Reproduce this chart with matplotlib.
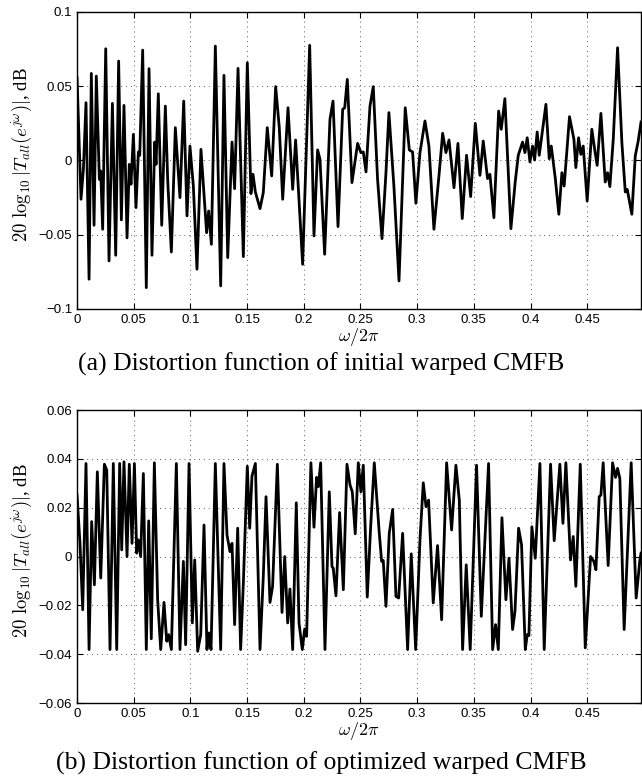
import matplotlib
matplotlib.use("Agg")
import matplotlib.pyplot as plt

plt.rcParams['mathtext.fontset'] = 'cm'
plt.rcParams['font.family'] = 'Liberation Sans'

# (a) initial warped CMFB: points (freq, dB)
freq_a = [0.0, 0.0035, 0.0056, 0.0079, 0.0106, 0.0126, 0.0150, 0.0170, 0.0197, 0.0209,
          0.0226, 0.0253, 0.0282, 0.0312, 0.0341, 0.0367, 0.0391, 0.0414, 0.0441, 0.0461,
          0.0476, 0.0497, 0.0520, 0.0541, 0.0553, 0.0579, 0.0611, 0.0635, 0.0661, 0.0685,
          0.0697, 0.0717, 0.0747, 0.0779, 0.0800, 0.0832, 0.0867, 0.0908, 0.0941, 0.0970,
          0.0996, 0.1026, 0.1058, 0.1093, 0.1143, 0.1161, 0.1185, 0.1220, 0.1267, 0.1296,
          0.1329, 0.1367, 0.1390, 0.1420, 0.1467, 0.1502, 0.1534, 0.1552, 0.1573, 0.1614,
          0.1643, 0.1678, 0.1717, 0.1752, 0.1784, 0.1814, 0.1861, 0.1902, 0.1928, 0.1990,
          0.2052, 0.2090, 0.2122, 0.2143, 0.2184, 0.2231, 0.2258, 0.2302, 0.2343, 0.2361,
          0.2384, 0.2425, 0.2475, 0.2504, 0.2525, 0.2549, 0.2584, 0.2613, 0.2651, 0.2690,
          0.2725, 0.2751, 0.2795, 0.2840, 0.2895, 0.2931, 0.2960, 0.2989, 0.3025, 0.3069,
          0.3104, 0.3148, 0.3195, 0.3225, 0.3254, 0.3281, 0.3325, 0.3360, 0.3398, 0.3436,
          0.3472, 0.3513, 0.3554, 0.3583, 0.3621, 0.3642, 0.3677, 0.3719, 0.3742, 0.3774,
          0.3827, 0.3865, 0.3892, 0.3930, 0.3951, 0.3971, 0.3995, 0.4018, 0.4036, 0.4059,
          0.4077, 0.4136, 0.4165, 0.4183, 0.4218, 0.4250, 0.4277, 0.4297, 0.4344, 0.4383,
          0.4400, 0.4424, 0.4444, 0.4465, 0.4500, 0.4541, 0.4568, 0.4588, 0.4621, 0.4659,
          0.4680, 0.4700, 0.4730, 0.4768, 0.4806, 0.4836, 0.4853, 0.4894, 0.4924, 0.4950,
          0.4975]
dist_a = [0.0556, -0.0262, -0.0061, 0.0388, -0.0800, 0.0585, -0.0437, 0.0567, -0.0128, -0.0072,
          -0.0464, 0.0751, -0.0677, 0.0383, -0.0639, 0.0668, -0.0401, 0.0370, -0.0522, -0.0027,
          -0.0161, 0.0175, -0.0318, 0.0056, 0.0034, 0.0742, -0.0857, 0.0617, -0.0639, 0.0123,
          -0.0027, 0.0448, -0.0437, 0.0365, -0.0139, -0.0617, 0.0220, -0.0251, 0.0399, -0.0374,
          0.0096, -0.0173, -0.0733, 0.0074, -0.0487, -0.0341, -0.0565, 0.0769, -0.0845, 0.0572,
          -0.0655, 0.0123, -0.0191, 0.0619, -0.0648, 0.0657, -0.0224, -0.0094, -0.0213, -0.0325,
          -0.0217, 0.0220, -0.0105, 0.0496, 0.0220, -0.0262, 0.0354, -0.0195, 0.0137, -0.0700,
          0.0774, -0.0509, 0.0070, 0.0007, -0.0632, 0.0276, 0.0399, -0.0446, 0.0343, 0.0354,
          0.0545, -0.0150, 0.0114, 0.0052, 0.0056, -0.0078, 0.0365, 0.0496, -0.0128, -0.0527,
          -0.0083, 0.0321, -0.0173, -0.0812, 0.0354, 0.0070, 0.0056, -0.0289, 0.0052, 0.0265,
          0.0096, -0.0464, -0.0083, 0.0182, 0.0052, 0.0137, -0.0184, 0.0114, -0.0392, 0.0034,
          -0.0244, 0.0249, -0.0101, 0.0130, -0.0123, -0.0094, -0.0386, 0.0332, 0.0209, 0.0415,
          -0.0460, -0.0146, 0.0034, 0.0123, 0.0052, 0.0152, -0.0011, 0.0096, 0.0002, 0.0191,
          0.0034, 0.0377, 0.0011, 0.0096, -0.0117, -0.0363, -0.0083, -0.0173, 0.0294, 0.0141,
          -0.0049, 0.0152, 0.0040, 0.0096, -0.0274, 0.0209, 0.0063, -0.0034, 0.0316, -0.0146,
          -0.0083, -0.0177, 0.0141, 0.0758, 0.0119, -0.0213, -0.0195, -0.0363, 0.0029, 0.0130,
          0.0258]

# (b) optimized warped CMFB
freq_b = [0.0, 0.0026, 0.0050, 0.0079, 0.0106, 0.0129, 0.0153, 0.0179, 0.0209, 0.0241,
          0.0262, 0.0291, 0.0320, 0.0350, 0.0376, 0.0394, 0.0414, 0.0441, 0.0461, 0.0485,
          0.0506, 0.0526, 0.0541, 0.0561, 0.0585, 0.0611, 0.0632, 0.0655, 0.0682, 0.0711,
          0.0738, 0.0767, 0.0791, 0.0808, 0.0832, 0.0876, 0.0908, 0.0938, 0.0958, 0.0988,
          0.1017, 0.1038, 0.1064, 0.1091, 0.1120, 0.1146, 0.1161, 0.1182, 0.1220, 0.1267,
          0.1296, 0.1323, 0.1349, 0.1367, 0.1390, 0.1417, 0.1443, 0.1467, 0.1502, 0.1523,
          0.1543, 0.1573, 0.1614, 0.1643, 0.1667, 0.1702, 0.1725, 0.1767, 0.1808, 0.1832,
          0.1858, 0.1878, 0.1902, 0.1934, 0.1958, 0.1987, 0.2008, 0.2025, 0.2063, 0.2090,
          0.2113, 0.2128, 0.2149, 0.2187, 0.2225, 0.2249, 0.2260, 0.2284, 0.2316, 0.2349,
          0.2381, 0.2408, 0.2428, 0.2454, 0.2481, 0.2504, 0.2525, 0.2560, 0.2590, 0.2622,
          0.2666, 0.2687, 0.2701, 0.2725, 0.2754, 0.2784, 0.2813, 0.2837, 0.2872, 0.2916,
          0.2948, 0.2987, 0.3025, 0.3054, 0.3078, 0.3101, 0.3142, 0.3180, 0.3216, 0.3260,
          0.3304, 0.3342, 0.3372, 0.3401, 0.3433, 0.3468, 0.3524, 0.3566, 0.3630, 0.3666,
          0.3692, 0.3716, 0.3748, 0.3783, 0.3810, 0.3842, 0.3863, 0.3895, 0.3921, 0.3954,
          0.3971, 0.3986, 0.4012, 0.4042, 0.4083, 0.4121, 0.4177, 0.4209, 0.4259, 0.4286,
          0.4312, 0.4353, 0.4377, 0.4400, 0.4439, 0.4483, 0.4530, 0.4559, 0.4577, 0.4606,
          0.4621, 0.4641, 0.4685, 0.4724, 0.4750, 0.4768, 0.4788, 0.4826, 0.4888, 0.4932,
          0.4965, 0.4975]
dist_b = [0.0252, 0.0054, -0.0218, 0.0381, -0.0381, 0.0143, -0.0116, 0.0347, -0.0088, 0.0378,
          0.0354, -0.0381, 0.0381, -0.0381, 0.0381, 0.0027, 0.0388, 0.0000, 0.0378, 0.0054,
          0.0381, 0.0014, 0.0068, 0.0000, 0.0340, -0.0381, 0.0146, -0.0337, 0.0384, -0.0177,
          -0.0381, -0.0188, -0.0347, -0.0320, -0.0381, 0.0381, -0.0381, -0.0020, -0.0361, 0.0381,
          -0.0272, -0.0014, -0.0388, -0.0320, 0.0129, -0.0381, -0.0313, -0.0381, 0.0381, -0.0381,
          0.0381, 0.0088, 0.0020, 0.0054, -0.0279, 0.0116, -0.0381, -0.0109, 0.0370, 0.0116,
          0.0329, 0.0381, -0.0381, -0.0082, 0.0245, -0.0188, -0.0122, 0.0378, -0.0229, 0.0000,
          -0.0272, -0.0133, -0.0381, 0.0220, -0.0272, -0.0381, -0.0297, -0.0327, 0.0384, 0.0120,
          0.0324, 0.0286, 0.0384, -0.0381, 0.0265, -0.0041, -0.0048, -0.0161, 0.0180, -0.0136,
          0.0378, 0.0293, 0.0265, 0.0093, 0.0384, 0.0265, 0.0374, -0.0166, 0.0122, 0.0384,
          0.0095, -0.0020, -0.0016, -0.0204, 0.0095, 0.0193, -0.0163, -0.0170, 0.0095, -0.0381,
          0.0011, -0.0381, 0.0068, 0.0302, 0.0204, 0.0231, -0.0190, 0.0045, -0.0259, 0.0384,
          0.0109, 0.0374, 0.0231, -0.0381, -0.0034, -0.0381, 0.0374, -0.0245, 0.0381, -0.0381,
          -0.0279, -0.0381, 0.0159, -0.0177, -0.0007, -0.0299, -0.0224, 0.0116, 0.0048, -0.0381,
          -0.0320, -0.0324, 0.0122, -0.0007, 0.0381, -0.0381, 0.0378, 0.0065, 0.0378, 0.0136,
          0.0384, -0.0014, 0.0082, -0.0122, 0.0378, -0.0374, 0.0000, -0.0020, -0.0054, 0.0245,
          0.0252, 0.0384, -0.0037, 0.0384, 0.0324, 0.0361, 0.0320, -0.0299, 0.0384, -0.0170,
          -0.0014, 0.0014]

xticks = [0, 0.05, 0.1, 0.15, 0.2, 0.25, 0.3, 0.35, 0.4, 0.45]
xticklabels = ['0', '0.05', '0.1', '0.15', '0.2', '0.25', '0.3', '0.35', '0.4', '0.45']
yticks_a = [-0.1, -0.05, 0, 0.05, 0.1]
yticklabels_a = ['\u22120.1', '\u22120.05', '0', '0.05', '0.1']
yticks_b = [-0.06, -0.04, -0.02, 0, 0.02, 0.04, 0.06]
yticklabels_b = ['\u22120.06', '\u22120.04', '\u22120.02', '0', '0.02', '0.04', '0.06']

captions = ['(a) Distortion function of initial warped CMFB',
            '(b) Distortion function of optimized warped CMFB']

fig = plt.figure(figsize=(6.42, 7.84), dpi=100)
ax_a = fig.add_axes([0.12, 0.606, 0.8785, 0.379])
ax_b = fig.add_axes([0.12, 0.1033, 0.8785, 0.3737])

panels = [(ax_a, freq_a, dist_a, yticks_a, yticklabels_a, captions[0], 0.535),
          (ax_b, freq_b, dist_b, yticks_b, yticklabels_b, captions[1], 0.027)]

for ax, f, d, yt, ytl, cap, cap_y in panels:
    ax.plot(f, d, color='black', linewidth=2.0)
    ax.set_xlim(0, 0.4975)
    ax.set_ylim(yt[0], yt[-1])
    ax.set_xticks(xticks)
    ax.set_xticklabels(xticklabels, fontsize=9.5)
    ax.set_yticks(yt)
    ax.set_yticklabels(ytl, fontsize=9.5)
    ax.tick_params(direction='in', top=True, right=True, length=4, width=0.8)
    ax.grid(True, color='0.35', linestyle=(0, (1, 4)), linewidth=0.7)
    for s in ax.spines.values():
        s.set_linewidth(1.0)
    ax.set_xlabel(r'$\omega/2\pi$', fontsize=13, labelpad=0)
    ax.set_ylabel(r'$20\ \log_{10}|T_{all}(e^{j\omega})|$, dB', fontsize=13.5,
                  family='Liberation Serif')
    ax.yaxis.set_label_coords(-0.077, 0.52)
    fig.text(0.5, cap_y, cap, ha='center', va='center', fontsize=18.5,
             family='Liberation Serif')

fig.savefig('out.png', dpi=100)
